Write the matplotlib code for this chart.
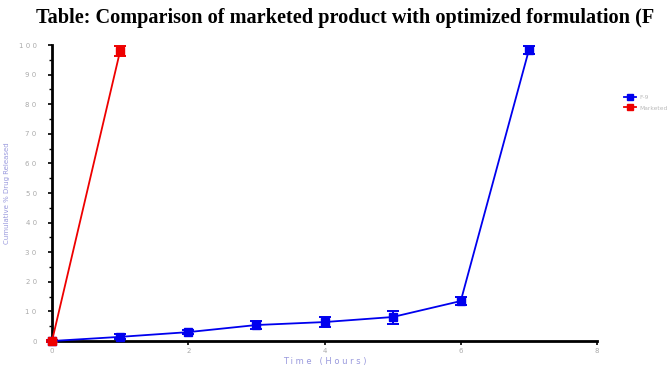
import matplotlib
matplotlib.use("Agg")
import matplotlib.pyplot as plt
from matplotlib.lines import Line2D
from matplotlib.ticker import FuncFormatter, MultipleLocator

time_f = [0, 1, 2, 3, 4, 5, 6, 7]
release_f = [0, 1.4, 3.0, 5.4, 6.4, 8.1, 13.5, 98.3]
err_f = [0.5, 0.8, 0.8, 1.2, 1.6, 2.2, 1.2, 1.5]
time_m = [0, 1]
release_m = [0, 98.0]
err_m = [0.5, 1.8]
labels = ["F-9", "Marketed"]
colors = ["#0000ee", "#ee0000"]
title = "Table: Comparison of marketed product with optimized formulation (F"

fig = plt.figure(figsize=(6.7, 3.76), dpi=100)
ax = fig.add_axes([52/670, 35/376, 545/670, 296/376])

ax.errorbar(time_f, release_f, yerr=err_f, color=colors[0], marker="s", markersize=6,
            linewidth=1.3, capsize=4, elinewidth=1.4, capthick=1.4, clip_on=False, zorder=3)
ax.errorbar(time_m, release_m, yerr=err_m, color=colors[1], marker="s", markersize=6,
            linewidth=1.3, capsize=4, elinewidth=1.4, capthick=1.4, clip_on=False, zorder=3)

ax.set_xlim(0, 8)
ax.set_ylim(0, 100)
ax.xaxis.set_major_locator(MultipleLocator(2))
ax.yaxis.set_major_locator(MultipleLocator(10))
ax.yaxis.set_minor_locator(MultipleLocator(5))
sp = lambda v, p: " ".join(str(int(v)))
ax.xaxis.set_major_formatter(FuncFormatter(sp))
ax.yaxis.set_major_formatter(FuncFormatter(sp))
for s in ["top", "right"]:
    ax.spines[s].set_visible(False)
for s in ["left", "bottom"]:
    ax.spines[s].set_linewidth(2)
ax.tick_params(axis="both", which="major", labelsize=5, labelcolor="#aaaaaa", length=3, width=1.2)
ax.tick_params(axis="y", which="major", pad=8)
ax.tick_params(axis="x", which="major", pad=2)
ax.tick_params(axis="y", which="minor", length=2, width=1)
ax.set_xlabel("T i m e   ( H o u r s )", fontsize=6, color="#9999dd", labelpad=2)
ax.set_ylabel("Cumulative % Drug Released", fontsize=5, color="#9999dd", labelpad=6)

fig.text(36/670, 1 - 18/376, title, fontsize=14.6, fontweight="bold", family="Liberation Serif",
         va="center", ha="left")

handles = [Line2D([], [], color=c, marker="s", markersize=4, linewidth=1.3) for c in colors]
leg = ax.legend(handles, labels, loc="upper left", bbox_to_anchor=(1.04, 0.85), frameon=False,
                fontsize=4.3, handlelength=2.0, labelspacing=0.9, handletextpad=0.5)
for t in leg.get_texts():
    t.set_color("#bbbbbb")

fig.savefig("out.png", dpi=100)
